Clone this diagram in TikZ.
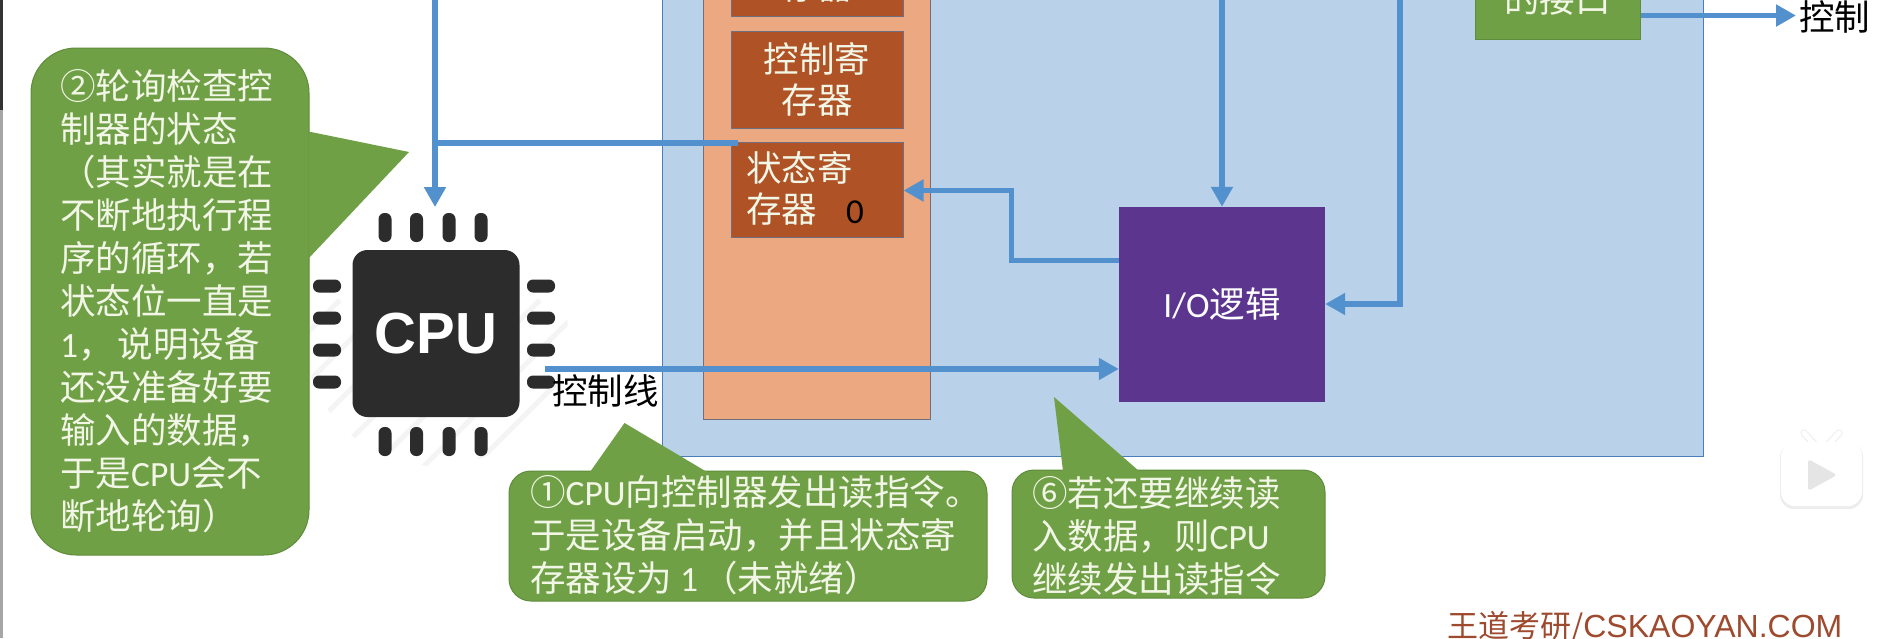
\documentclass[tikz,border=0pt]{standalone}
\usepackage{fontspec}
\usetikzlibrary{arrows.meta,calc}
\setmainfont{Carlito}
\newfontfamily\cjk{Noto Sans CJK SC}
\newfontfamily\heiti{Liberation Sans}
\definecolor{wire}{HTML}{5291CD}
\definecolor{panel}{HTML}{B9D1E9}
\definecolor{paneledge}{HTML}{4A7EBB}
\definecolor{salmon}{HTML}{ECA981}
\definecolor{regfill}{HTML}{AF5226}
\definecolor{regedge}{HTML}{6F6F7F}
\definecolor{leaf}{HTML}{70A046}
\definecolor{leafedge}{HTML}{5F8C3A}
\definecolor{cream}{HTML}{F2F6E6}
\definecolor{violet}{HTML}{5C358F}
\definecolor{chip}{HTML}{2C2C2C}
\definecolor{mark}{HTML}{9E4A2E}
\definecolor{hatchgrey}{HTML}{F4F4F4}
\newcommand{\bigtext}{\cjk\fontsize{35.5}{43}\selectfont}
\newcommand{\regtext}{\cjk\fontsize{35.5}{41}\selectfont}
\tikzset{
  x=1pt,y=-1pt,
  wireline/.style={draw=wire,line width=5.5pt},
  wirearrow/.style={wireline,-{Triangle[length=20pt,width=21pt]}},
  regbox/.style={draw=regedge,line width=1pt,fill=regfill,inner sep=0pt,text=cream,align=center,font=\regtext},
  bubblebody/.style={draw=leafedge,line width=1pt,fill=leaf,inner sep=0pt},
  bubbletail/.style={fill=leaf},
  bubbletext/.style={text=cream,inner sep=0pt,anchor=north west,align=left,font=\bigtext},
  pinshape/.style={fill=chip,rounded corners=6pt},
  hatch/.style={draw=hatchgrey,line width=5pt},
}
\begin{document}
\begin{tikzpicture}
\useasboundingbox (0,0) rectangle (1896,638);
\clip (0,0) rectangle (1896,638);
\fill[white] (0,0) rectangle (1896,638);
% strip along the left edge
\fill[black!80] (0,0) rectangle (3,110);
\fill[black!35] (0,110) rectangle (3,638);

% controller panel and register column
\node[draw=paneledge,line width=1pt,fill=panel,inner sep=0pt,minimum width=1041pt,minimum height=516pt] (panel) at (1183,198) {};
\node[draw=regedge,line width=1pt,fill=salmon,inner sep=0pt,minimum width=227pt,minimum height=479pt] (regcol) at (817,179.5) {};
\node[regbox,minimum width=172pt,minimum height=60pt] (datareg) at (817,-14) {存器};
\node[regbox,minimum width=172pt,minimum height=97pt] (ctrlreg) at (817,79.5) {控制寄\\存器};
\node[regbox,minimum width=172pt,minimum height=95pt] (statreg) at (817,190) {};
\node[text=cream,inner sep=0pt,anchor=north west,align=left,font=\regtext] (stattext) at (746,151) {状态寄\\存器};
\node[inner sep=0pt,text=black,font=\fontsize{35}{40}\selectfont] (statbit) at (855,212) {0};
\node[fill=violet,inner sep=0pt,minimum width=206pt,minimum height=195pt,text=white,font=\bigtext] (iologic) at (1222,304.5) {{\fontspec{Carlito}I/O}逻辑};
\node[draw=leafedge,line width=1pt,fill=leaf,inner sep=0pt,minimum width=165pt,minimum height=80pt,text=cream,font=\bigtext] (iface) at (1557.5,-1) {的接口};

% processor chip with its faint diagonal stripes
\begin{scope}
  \clip (436,334) circle (132pt);
  \foreach \c in {590,640,690,740,790,840,890,940,990}{
    \draw[hatch] (\c-300,300) -- (300,\c-300);
  }
\end{scope}
\node[fill=chip,rounded corners=15pt,inner sep=0pt,minimum size=167pt,text=white,font=\heiti\bfseries\fontsize{58}{58}\selectfont] (cpu) at (436,333.5) {CPU};
\foreach \px in {385,416.5,449,481}{
  \fill[pinshape] (\px-6.5,213) rectangle (\px+6.5,242);
  \fill[pinshape] (\px-6.5,427) rectangle (\px+6.5,456);
}
\foreach \py in {286,318,350,382}{
  \fill[pinshape] (313,\py-6.5) rectangle (341,\py+6.5);
  \fill[pinshape] (527,\py-6.5) rectangle (555,\py+6.5);
}

% connectors
\coordinate (busTop) at (435,-5);
\coordinate (busJoin) at (435,143);
\coordinate (busTip) at (435,207);
\coordinate (statTap) at (738,143);
\coordinate (cpuOut) at (545,369);
\coordinate (ctrlIn) at (iologic.west |- cpuOut);
\coordinate (ioStat) at (iologic.west |- 0,260.5);
\coordinate (statIn) at (statreg.east |- 0,190.5);
\coordinate (ioTop) at (iologic.north |- 0,-5);
\coordinate (wireTop) at (1400,-5);
\coordinate (ioSide) at (iologic.east |- 0,304);
\coordinate (ifaceOut) at (iface.east |- 0,15.5);
\coordinate (ctrlLabelIn) at (1796,15.5);
\draw[wirearrow] (busTop) -- (busTip);
\draw[wireline] (busJoin) -- (statTap);
\draw[wirearrow] (cpuOut) -- (ctrlIn);
\draw[wirearrow] (ioStat) -- (1011.5,260.5) -- (1011.5,190.5) -- (statIn);
\draw[wirearrow] (ioTop) -- (iologic.north);
\draw[wirearrow] (wireTop) -- (1400,304) -- (ioSide);
\draw[wirearrow] (ifaceOut) -- (ctrlLabelIn);

% labels on white
\node[inner sep=0pt,anchor=west,text=black,font=\bigtext] (ctrlline) at (552,391) {控制线};
\node[inner sep=0pt,anchor=west,text=black,font=\bigtext] (ctrlout) at (1799,17) {控制};

% callout: polling
\node[bubblebody,rounded corners=45pt,minimum width=278pt,minimum height=507pt] (pollbody) at (170,301.5) {};
\fill[bubbletail] ($(pollbody.east)+(-1,-170)$) -- (409,152) -- ($(pollbody.east)+(-1,-43)$) -- cycle;
\node[bubbletext] (polltext) at (60,69) {②轮询检查控\\制器的状态\\（其实就是在\\不断地执行程\\序的循环，若\\状态位一直是\\{\fontspec{Carlito}1}，\hspace{4pt}说明设备\\还没准备好要\\输入的数据，\\于是{\fontspec{Carlito}CPU}会不\\断地轮询）};

% callout: read command
\node[bubblebody,rounded corners=22pt,minimum width=478pt,minimum height=130pt] (readbody) at (748,536) {};
\fill[bubbletail] (590,472) -- (624.5,423) -- (707,472) -- cycle;
\node[bubbletext] (readtext) at (530,475) {①{\fontspec{Carlito}CPU}向控制器发出读指令。\\于是设备启动，并且状态寄\\存器设为 {\fontspec{Carlito}1}\hspace{4pt}（未就绪）};

% callout: next read
\node[bubblebody,rounded corners=22pt,minimum width=313pt,minimum height=128pt] (nextbody) at (1168.5,534) {};
\fill[bubbletail] (1063,471) -- (1054,397) -- (1139,471) -- cycle;
\node[bubbletext] (nexttext) at (1032,476) {⑥若还要继续读\\入数据，则{\fontspec{Carlito}CPU}\\继续发出读指令};

% play badge
\begin{scope}
  \draw[black!7,line width=7pt,line cap=round] (1804,433) -- (1816,446);
  \draw[black!7,line width=7pt,line cap=round] (1839,433) -- (1827,446);
  \fill[black!7,rounded corners=14pt] (1780,443) rectangle (1863,509);
  \draw[white,line width=5pt,line cap=round] (1804,433) -- (1816,446);
  \draw[white,line width=5pt,line cap=round] (1839,433) -- (1827,446);
  \fill[white,rounded corners=14pt] (1781,442) rectangle (1862,506);
  \fill[black!10,rounded corners=3pt] (1808,459) -- (1837,475) -- (1808,491) -- cycle;
\end{scope}

% site mark
\node[inner sep=0pt,anchor=base west,text=mark,font=\cjk\fontsize{31}{31}\selectfont] (site) at (1447,637) {王道考研/{\heiti\fontsize{32}{32}\selectfont CSKAOYAN.COM}};
\end{tikzpicture}
\end{document}
